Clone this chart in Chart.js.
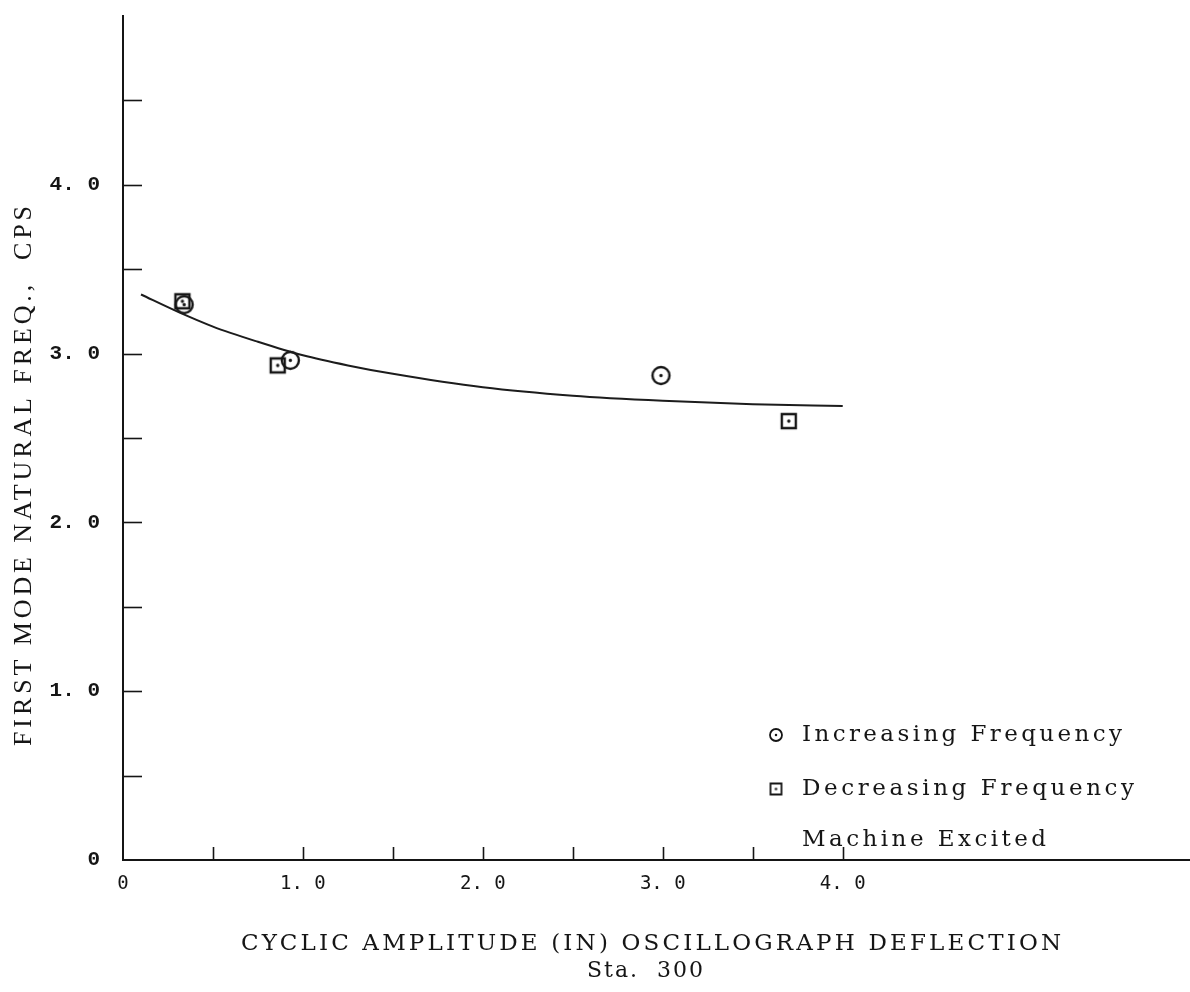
<!DOCTYPE html>
<html>
<head>
<meta charset="utf-8">
<script src="https://cdn.jsdelivr.net/npm/chart.js@4.4.1/dist/chart.umd.min.js"></script>
<style>
  html, body { margin: 0; padding: 0; background: #ffffff; }
  #wrap { width: 1190px; height: 992px; }
</style>
</head>
<body>
<div id="wrap"><canvas id="c" width="1190" height="992"></canvas></div>
<script>
// Measured natural frequencies, Sta. 300
const increasingX = [0.34, 0.93, 2.99];
const increasingY = [3.29, 2.96, 2.87];
const decreasingX = [0.33, 0.86, 3.70];
const decreasingY = [3.31, 2.93, 2.60];

// Faired curve through the data
const fitX = [0.1, 0.3, 0.5, 0.75, 1.0, 1.25, 1.5, 2.0, 2.5, 3.0, 3.5, 4.0];
const fitY = [3.35, 3.25, 3.16, 3.07, 2.99, 2.93, 2.88, 2.80, 2.75, 2.72, 2.70, 2.69];

// Axis ticks and their labels
const xTickValues = [0, 0.5, 1, 1.5, 2, 2.5, 3, 3.5, 4];
const xTickLabels = ['0', '', '1. 0', '', '2. 0', '', '3. 0', '', '4. 0'];
const yTickValues = [0, 0.5, 1, 1.5, 2, 2.5, 3, 3.5, 4, 4.5];
const yTickLabels = ['0', '', '1. 0', '', '2. 0', '', '3. 0', '', '4. 0', ''];

const seriesNames = ['Increasing Frequency', 'Decreasing Frequency'];
const legendNote = 'Machine Excited';
const xTitle = 'CYCLIC AMPLITUDE (IN) OSCILLOGRAPH DEFLECTION';
const xSubtitle = 'Sta.  300';
const yTitle = 'FIRST MODE NATURAL FREQ.,  CPS';

const INK = '#151515';

// Open circle / open square markers with a centre dot
function makeMarker(kind, size, lw) {
  const c = document.createElement('canvas');
  const s = size + 6;
  c.width = s; c.height = s;
  const g = c.getContext('2d');
  g.strokeStyle = INK; g.fillStyle = INK; g.lineWidth = lw;
  const m = s / 2;
  g.beginPath();
  if (kind === 'circle') {
    g.arc(m, m, size / 2, 0, Math.PI * 2);
  } else {
    g.rect(m - size / 2, m - size / 2, size, size);
  }
  g.stroke();
  g.beginPath();
  g.arc(m, m, Math.max(1.2, lw * 0.7), 0, Math.PI * 2);
  g.fill();
  return c;
}
const circleMarker = makeMarker('circle', 17, 2.4);
const squareMarker = makeMarker('square', 14, 2.4);
const circleLegend = makeMarker('circle', 12, 1.8);
const squareLegend = makeMarker('square', 11, 1.8);

const toPoints = (xs, ys) => xs.map((x, i) => ({ x: x, y: ys[i] }));

// Draws text spread to a given width with letter spacing
function spacedText(g, text, cx, cy, width, font) {
  g.save();
  g.font = font;
  g.letterSpacing = '0px';
  const w0 = g.measureText(text).width;
  const sp = (width - w0) / Math.max(1, text.length - 1);
  g.letterSpacing = sp.toFixed(2) + 'px';
  g.textAlign = 'left';
  g.textBaseline = 'middle';
  g.fillText(text, cx - width / 2, cy);
  g.restore();
}

const decorations = {
  id: 'decorations',
  afterDraw(chart) {
    const g = chart.ctx;
    const xs = chart.scales.x, ys = chart.scales.y;
    const x0 = xs.left, y0 = ys.bottom;
    g.save();
    g.strokeStyle = INK;
    g.lineWidth = 1.6;
    // inward tick marks
    yTickValues.forEach(v => {
      if (v === 0) return;
      const py = Math.round(ys.getPixelForValue(v)) + 0.5;
      g.beginPath(); g.moveTo(x0, py); g.lineTo(x0 + 19, py); g.stroke();
    });
    xTickValues.forEach(v => {
      if (v === 0) return;
      const px = Math.round(xs.getPixelForValue(v)) + 0.5;
      g.beginPath(); g.moveTo(px, y0); g.lineTo(px, y0 - 13); g.stroke();
    });
    g.fillStyle = INK;
    // axis titles
    spacedText(g, xTitle, 651, 944, 820, '23px "DejaVu Serif"');
    spacedText(g, xSubtitle, 645, 971, 116, '22px "DejaVu Serif"');
    g.save();
    g.translate(24, 476);
    g.rotate(-Math.PI / 2);
    spacedText(g, yTitle, 0, 0, 540, '26px "Liberation Serif"');
    g.restore();
    // key
    const lx = 776;
    g.drawImage(circleLegend, lx - circleLegend.width / 2, 735 - circleLegend.height / 2);
    g.drawImage(squareLegend, lx - squareLegend.width / 2, 789 - squareLegend.height / 2);
    spacedText(g, seriesNames[0], 802 + 160, 735, 320, '23px "DejaVu Serif"');
    spacedText(g, seriesNames[1], 802 + 166, 789, 332, '23px "DejaVu Serif"');
    spacedText(g, legendNote, 802 + 122, 840, 244, '23px "DejaVu Serif"');
    g.restore();
  }
};

const zeroPad = s => { s.paddingTop = 0; s.paddingBottom = 0; s.paddingLeft = 0; s.paddingRight = 0; };

new Chart(document.getElementById('c'), {
  type: 'scatter',
  data: {
    datasets: [
      {
        label: 'curve',
        data: toPoints(fitX, fitY),
        showLine: true,
        borderColor: '#1c1c1c',
        borderWidth: 2,
        pointRadius: 0,
        cubicInterpolationMode: 'monotone',
        fill: false
      },
      {
        label: seriesNames[0],
        data: toPoints(increasingX, increasingY),
        pointStyle: circleMarker,
        pointRadius: 10
      },
      {
        label: seriesNames[1],
        data: toPoints(decreasingX, decreasingY),
        pointStyle: squareMarker,
        pointRadius: 10
      }
    ]
  },
  options: {
    responsive: false,
    animation: false,
    events: [],
    layout: { autoPadding: false, padding: { top: 16, right: 0, left: 0, bottom: 0 } },
    plugins: { legend: { display: false }, tooltip: { enabled: false } },
    scales: {
      x: {
        type: 'linear',
        min: 0,
        max: 5.93,
        afterBuildTicks: s => { s.ticks = xTickValues.map(v => ({ value: v })); },
        afterFit: s => { s.height = 132; zeroPad(s); },
        grid: { display: false, drawTicks: false },
        border: { display: true, color: INK, width: 2 },
        ticks: {
          autoSkip: false,
          maxRotation: 0,
          padding: 13,
          color: INK,
          font: { family: 'DejaVu Sans Mono', size: 19 },
          callback: (v, i) => xTickLabels[i]
        }
      },
      y: {
        type: 'linear',
        min: 0,
        max: 5,
        afterBuildTicks: s => { s.ticks = yTickValues.map(v => ({ value: v })); },
        afterFit: s => { s.width = 123; zeroPad(s); },
        grid: { display: false, drawTicks: false },
        border: { display: true, color: INK, width: 2 },
        ticks: {
          autoSkip: false,
          padding: 23,
          color: INK,
          font: { family: 'Liberation Mono', size: 21, weight: 'bold' },
          callback: (v, i) => yTickLabels[i]
        }
      }
    }
  },
  plugins: [decorations]
});
</script>
</body>
</html>
